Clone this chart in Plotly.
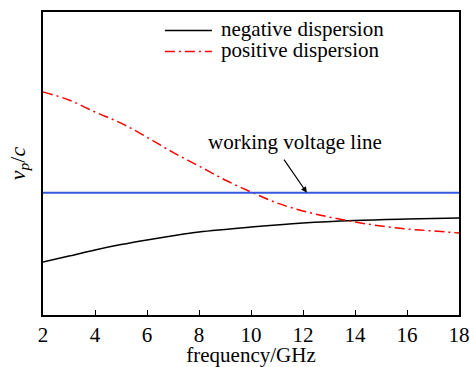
import plotly.graph_objects as go

# Phase velocity (normalised, arbitrary scale) versus frequency
freq_neg = [2, 3, 4, 5, 6, 7, 8, 10, 12, 14, 16, 18]
vp_neg = [0.1525, 0.1584, 0.1644, 0.1697, 0.1743, 0.1785, 0.1822, 0.1871, 0.1911, 0.1936, 0.1950, 0.1960]

freq_pos = [2, 3, 4, 5, 6, 7, 8, 9, 10, 11, 12, 13, 14, 15, 16, 17, 18]
vp_pos = [0.3208, 0.3129, 0.3010, 0.2900, 0.2760, 0.2610, 0.2475, 0.2337, 0.2218,
          0.2109, 0.2030, 0.1970, 0.1921, 0.1881, 0.1851, 0.1832, 0.1812]

working_level = 0.2210
freq_range = [2, 18]
x_ticks = [2, 4, 6, 8, 10, 12, 14, 16, 18]

series_names = ["negative dispersion", "positive dispersion"]
series_colors = ["black", "red"]
series_dash = ["solid", "10px,4px,2px,4px"]

font_family = "Liberation Serif, Times New Roman, serif"
fs = 21

fig = go.Figure()
for fx, fy, name, col, dash in zip([freq_neg, freq_pos], [vp_neg, vp_pos],
                                    series_names, series_colors, series_dash):
    fig.add_trace(go.Scatter(
        x=fx, y=fy, mode="lines", name=name, showlegend=False,
        line=dict(color=col, width=1.5, dash=dash, shape="spline", smoothing=1.0),
    ))
fig.add_trace(go.Scatter(
    x=freq_range, y=[working_level, working_level], mode="lines",
    showlegend=False, line=dict(color="#3558E0", width=2),
))

# Legend drawn in paper coordinates: short line sample + label per series
legend_x0, legend_x1, legend_tx = 0.293, 0.406, 0.4255
legend_rows = [0.939, 0.870]
for yy, name, col, dash in zip(legend_rows, series_names, series_colors, series_dash):
    fig.add_shape(type="line", xref="paper", yref="paper",
                  x0=legend_x0, x1=legend_x1, y0=yy, y1=yy,
                  line=dict(color=col, width=1.5, dash=dash))
    fig.add_annotation(xref="paper", yref="paper", x=legend_tx, y=yy + 0.006,
                       xanchor="left", yanchor="middle", text=name, showarrow=False,
                       borderpad=0,
                       font=dict(size=fs, color="black", family=font_family))

fig.add_annotation(
    x=12.15, y=working_level, xref="x", yref="y",
    ax=11.23, ay=0.2554, axref="x", ayref="y",
    text="", showarrow=True, arrowhead=2, arrowsize=1, arrowwidth=1.2,
    arrowcolor="black", standoff=0,
)
fig.add_annotation(
    x=11.69, y=0.2713, xref="x", yref="y", yanchor="middle",
    text="working voltage line", showarrow=False,
    font=dict(size=fs, color="black", family=font_family),
)

fig.update_layout(
    width=470, height=367,
    margin=dict(l=43, r=11, t=12, b=52),
    paper_bgcolor="white", plot_bgcolor="white",
    font=dict(family=font_family, size=fs, color="black"),
    showlegend=False,
    xaxis=dict(
        range=freq_range, tickvals=x_ticks, ticks="inside", ticklen=5,
        tickwidth=1.2, tickcolor="black",
        showline=True, linecolor="black", linewidth=1.5, mirror=True,
        showgrid=False, zeroline=False, automargin=False,
        title=dict(text="frequency/GHz", standoff=0, font=dict(size=fs)),
        tickfont=dict(size=fs),
    ),
    yaxis=dict(
        range=[0.10, 0.40], showticklabels=False, ticks="",
        showline=True, linecolor="black", linewidth=1.5, mirror=True,
        showgrid=False, zeroline=False, automargin=False,
        title=dict(text="<i>v</i><sub><i>p</i></sub>/<i>c</i>", standoff=10, font=dict(size=22)),
    ),
)

fig.write_html("out.html")
